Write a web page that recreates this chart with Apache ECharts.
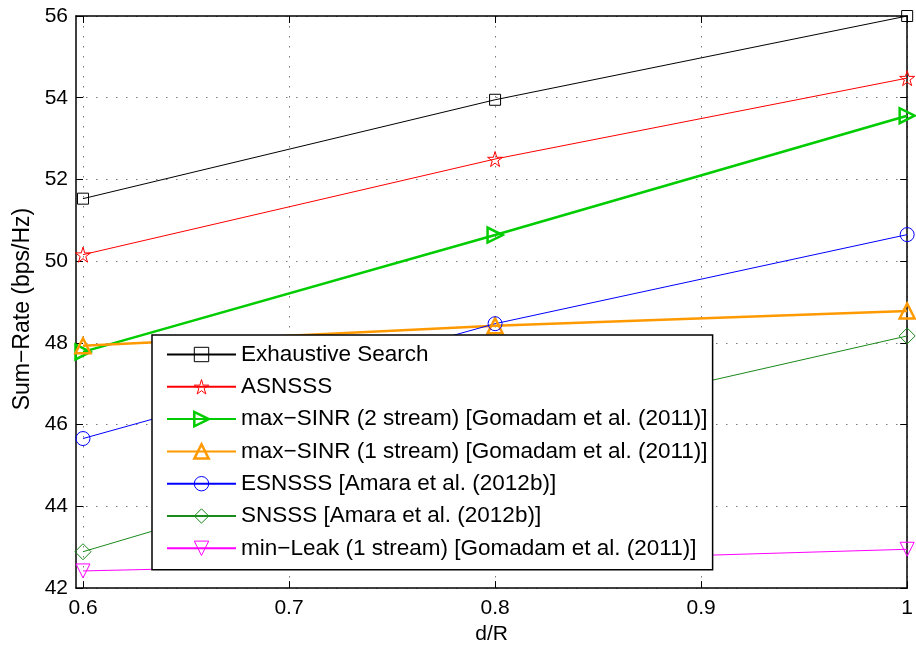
<!DOCTYPE html>
<html>
<head>
<meta charset="utf-8">
<script src="https://cdn.jsdelivr.net/npm/echarts@6/dist/echarts.min.js"></script>
<style>
  html, body { margin: 0; padding: 0; background: #fff; }
  #chart { width: 916px; height: 650px; }
</style>
</head>
<body>
<div id="chart"></div>
<script>
// d/R values where the curves were sampled
const distances = [0.6, 0.8, 1.0];
const xTicks = [0.6, 0.7, 0.8, 0.9, 1.0];

// Sum-rate (bps/Hz) per scheme
const exhaustiveSearch = [51.53, 53.95, 56.0];
const asnsss = [50.16, 52.50, 54.48];
const maxSinr2 = [47.78, 50.64, 53.56];
const maxSinr1 = [47.93, 48.42, 48.78];
const esnsss = [45.66, 48.47, 50.65];
const snsss = [42.89, 45.88, 48.17];
const minLeak1 = [42.42, 42.65, 42.95];

const seriesNames = [
  'Exhaustive Search',
  'ASNSSS',
  'max\u2212SINR (2 stream) [Gomadam et al. (2011)]',
  'max\u2212SINR (1 stream) [Gomadam et al. (2011)]',
  'ESNSSS [Amara et al. (2012b)]',
  'SNSSS [Amara et al. (2012b)]',
  'min\u2212Leak (1 stream) [Gomadam et al. (2011)]',
];

const FONT = '"Liberation Sans", Arial, Helvetica, sans-serif';
const STAR = 'path://M50,0 L61,35 L98,35 L68,57 L79,91 L50,70 L21,91 L32,57 L2,35 L39,35 Z';

// style per curve: colour, line width, marker
const styles = [
  { color: '#000000', width: 1, symbol: 'rect', size: 11, rotate: 0 },
  { color: '#ff0000', width: 1, symbol: STAR, size: 15, rotate: 0 },
  { color: '#00cc00', width: 2.5, symbol: 'triangle', size: 15, rotate: -90 },
  { color: '#ff9900', width: 2.5, symbol: 'triangle', size: 15, rotate: 0 },
  { color: '#0000ff', width: 1, symbol: 'circle', size: 14, rotate: 0 },
  { color: '#1a8a1a', width: 1, symbol: 'diamond', size: 16, rotate: 0 },
  { color: '#ff00ff', width: 1, symbol: 'triangle', size: 14, rotate: 180 },
];
const values = [exhaustiveSearch, asnsss, maxSinr2, maxSinr1, esnsss, snsss, minLeak1];

const chart = echarts.init(document.getElementById('chart'));

const gridLine = { show: true, lineStyle: { color: '#7a7a7a', width: 1, type: [1.5, 8.5] } };

chart.setOption({
  animation: false,
  backgroundColor: '#fff',
  textStyle: { fontFamily: FONT },
  grid: { left: 76, right: 6, top: 16, bottom: 61, containLabel: false },
  xAxis: [
    {
      type: 'value',
      // MATLAB leaves a little room left of 0.6
      min: 0.59661,
      max: 1.0,
      name: 'd/R',
      nameLocation: 'middle',
      nameGap: 35,
      nameTextStyle: { fontSize: 21, color: '#000', fontFamily: FONT },
      axisLine: { show: true, onZero: false, lineStyle: { color: '#000', width: 1.5 } },
      axisTick: { show: true, inside: true, length: 7, customValues: xTicks, lineStyle: { color: '#000', width: 1 } },
      axisLabel: {
        customValues: xTicks, margin: 10, fontSize: 21, color: '#000', fontFamily: FONT,
        formatter: (v) => (Math.abs(v - 1) < 1e-9 ? '1' : v.toFixed(1)),
      },
      splitLine: gridLine,
    },
    {
      type: 'value',
      position: 'top',
      min: 0.59661,
      max: 1.0,
      axisLine: { show: true, onZero: false, lineStyle: { color: '#000', width: 1.5 } },
      axisTick: { show: true, inside: true, length: 7, customValues: xTicks, lineStyle: { color: '#000', width: 1 } },
      axisLabel: { show: false, customValues: xTicks },
      splitLine: { show: false },
    },
  ],
  yAxis: [
    {
      type: 'value',
      min: 42,
      max: 56,
      interval: 2,
      name: 'Sum\u2212Rate (bps/Hz)',
      nameLocation: 'middle',
      nameGap: 42,
      // the label sits a bit below the axis centre in the original
      nameTextStyle: { fontSize: 23, color: '#000', fontFamily: FONT, padding: [0, 14, 0, 0] },
      axisLine: { show: true, onZero: false, lineStyle: { color: '#000', width: 1.5 } },
      axisTick: { show: true, inside: true, length: 7, lineStyle: { color: '#000', width: 1 } },
      axisLabel: { margin: 8, fontSize: 21, color: '#000', fontFamily: FONT },
      splitLine: gridLine,
    },
    {
      type: 'value',
      position: 'right',
      min: 42,
      max: 56,
      interval: 2,
      axisLine: { show: true, onZero: false, lineStyle: { color: '#000', width: 1.5 } },
      axisTick: { show: true, inside: true, length: 7, lineStyle: { color: '#000', width: 1 } },
      axisLabel: { show: false },
      splitLine: { show: false },
    },
  ],
  legend: {
    orient: 'vertical',
    left: 152,
    top: 335,
    backgroundColor: '#fff',
    borderColor: '#000',
    borderWidth: 1.5,
    borderRadius: 0,
    padding: [8, 5, 10, 14],
    itemWidth: 69,
    itemHeight: 18,
    itemGap: 9.3,
    itemTextGap: 8,
    textStyle: { fontSize: 22.5, lineHeight: 22, color: '#000', fontFamily: FONT },
    data: seriesNames.map((name, i) => ({
      name,
      itemStyle: { borderWidth: styles[i].width },
    })),
  },
  series: values.map((vals, i) => ({
    name: seriesNames[i],
    type: 'line',
    xAxisIndex: 0,
    yAxisIndex: 0,
    clip: false,
    data: distances.map((d, k) => [d, vals[k]]),
    color: styles[i].color,
    symbol: styles[i].symbol,
    symbolSize: styles[i].size,
    symbolRotate: styles[i].rotate,
    showAllSymbol: true,
    lineStyle: { color: styles[i].color, width: styles[i].width },
    itemStyle: { color: 'rgba(255,255,255,0)', borderColor: styles[i].color, borderWidth: styles[i].width },
    emphasis: { disabled: true },
  })),
});
</script>
</body>
</html>
